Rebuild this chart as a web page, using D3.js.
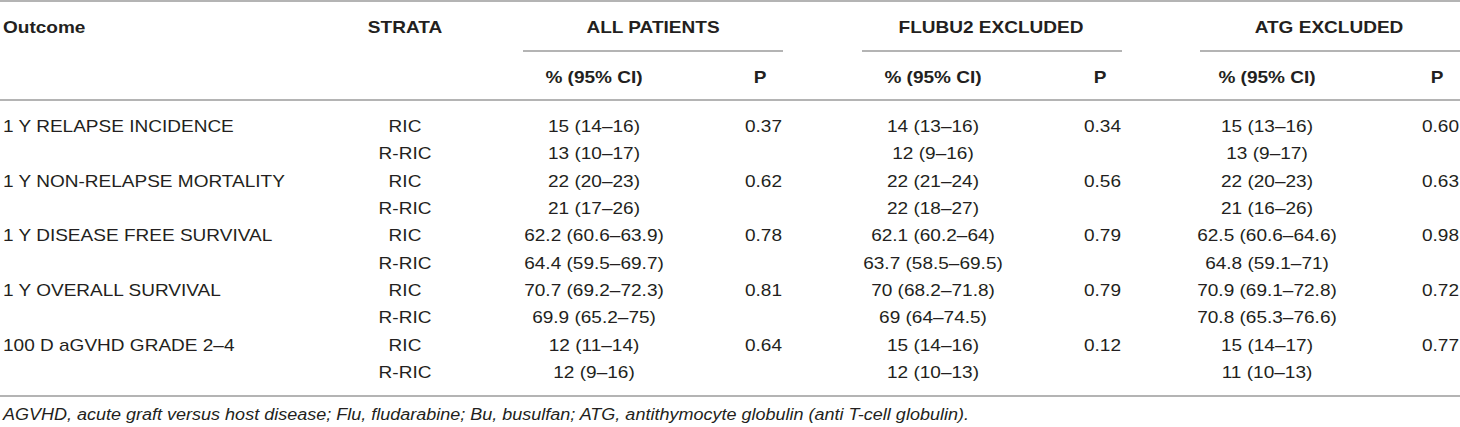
<!DOCTYPE html>
<html>
<head>
<meta charset="utf-8">
<script src="https://cdn.jsdelivr.net/npm/d3@7"></script>
<style>
  body { margin: 0; background: #fff; }
  text { font-family: "Liberation Sans", Arial, sans-serif; fill: #231f20; }
</style>
</head>
<body>
<div id="table"></div>
<script>
/* Table data. */
const outcomes = [
  "1 Y RELAPSE INCIDENCE",
  "1 Y NON-RELAPSE MORTALITY",
  "1 Y DISEASE FREE SURVIVAL",
  "1 Y OVERALL SURVIVAL",
  "100 D aGVHD GRADE 2–4"
]
const strata = ["RIC", "R-RIC"]
const groups = ["ALL PATIENTS", "FLUBU2 EXCLUDED", "ATG EXCLUDED"]
const subHeaders = ["% (95% CI)", "P"]

const allPct = ["15 (14–16)", "13 (10–17)", "22 (20–23)", "21 (17–26)", "62.2 (60.6–63.9)",
  "64.4 (59.5–69.7)", "70.7 (69.2–72.3)", "69.9 (65.2–75)", "12 (11–14)", "12 (9–16)"]
const allP = ["0.37", "0.62", "0.78", "0.81", "0.64"]
const flubuPct = ["14 (13–16)", "12 (9–16)", "22 (21–24)", "22 (18–27)", "62.1 (60.2–64)",
  "63.7 (58.5–69.5)", "70 (68.2–71.8)", "69 (64–74.5)", "15 (14–16)", "12 (10–13)"]
const flubuP = ["0.34", "0.56", "0.79", "0.79", "0.12"]
const atgPct = ["15 (13–16)", "13 (9–17)", "22 (20–23)", "21 (16–26)", "62.5 (60.6–64.6)",
  "64.8 (59.1–71)", "70.9 (69.1–72.8)", "70.8 (65.3–76.6)", "15 (14–17)", "11 (10–13)"]
const atgP = ["0.60", "0.63", "0.98", "0.72", "0.77"]

const footnote = "AGVHD, acute graft versus host disease; Flu, fludarabine; Bu, busulfan; ATG, antithymocyte globulin (anti T-cell globulin)."

/* Define svg-size. */
const width = 1460
const height = 427

const svg = d3.select("#table")
  .append("svg")
  .attr("width", width)
  .attr("height", height)

/* Font size and horizontal stretch of the original picture. */
const fontSize = 17
const stretch = 1.12
const lineColor = "#9b9b9b"

/* Column layout: each group has a value column, a P column and a rule under its title. */
const groupLayout = [
  { left: 523, right: 783, value: 594, p: 760, title: 653 },
  { left: 862, right: 1122, value: 933, p: 1100, title: 991 },
  { left: 1200, right: 1460, value: 1267, p: 1437, title: 1329 }
]
const outcomeX = 3
const strataX = 405

/* Row scale for the body: 10 rows (5 outcomes x 2 strata). */
const rowIndex = d3.range(outcomes.length * strata.length)
const y = d3.scalePoint()
  .domain(rowIndex)
  .range([126, 372])

/* Helper to add a text. */
function addText(g, str, x, yy, anchor, bold, italic, sx) {
  g.append("text")
    .attr("transform", `translate(${x}, ${yy}) scale(${sx || stretch}, 1)`)
    .attr("dy", "0.35em")
    .attr("text-anchor", anchor)
    .attr("font-size", fontSize)
    .attr("font-weight", bold ? "bold" : "normal")
    .attr("font-style", italic ? "italic" : "normal")
    .text(str)
}

/* Rules. */
const rules = svg.append("g")
  .attr("stroke", lineColor)
  .attr("stroke-width", 1.5)

rules.selectAll("line.full")
  .data([1, 100, 396])
  .enter()
  .append("line")
  .attr("class", "full")
  .attr("x1", 0)
  .attr("x2", width)
  .attr("y1", d => d)
  .attr("y2", d => d)

rules.selectAll("line.group")
  .data(groupLayout)
  .enter()
  .append("line")
  .attr("class", "group")
  .attr("x1", d => d.left)
  .attr("x2", d => d.right)
  .attr("y1", 51)
  .attr("y2", 51)

/* Header. */
const header = svg.append("g")
addText(header, "Outcome", outcomeX, 27, "start", true)
addText(header, "STRATA", strataX, 27, "middle", true)
groups.forEach((name, i) => {
  const c = groupLayout[i]
  addText(header, name, c.title, 27, "middle", true)
  addText(header, subHeaders[0], c.value, 77, "middle", true)
  addText(header, subHeaders[1], c.p, 77, "middle", true)
})

/* Body. */
const body = svg.append("g")
const pctSeries = [allPct, flubuPct, atgPct]
const pSeries = [allP, flubuP, atgP]

rowIndex.forEach(r => {
  const o = Math.floor(r / strata.length)
  const s = r % strata.length
  if (s === 0) addText(body, outcomes[o], outcomeX, y(r), "start")
  addText(body, strata[s], strataX, y(r), "middle")
  pctSeries.forEach((series, i) => {
    addText(body, series[r], groupLayout[i].value, y(r), "middle")
    if (s === 0) addText(body, pSeries[i][o], groupLayout[i].right - 1, y(r), "end")
  })
})

/* Footnote. */
addText(svg, footnote, outcomeX, 414, "start", false, true, 1.06)
</script>
</body>
</html>
